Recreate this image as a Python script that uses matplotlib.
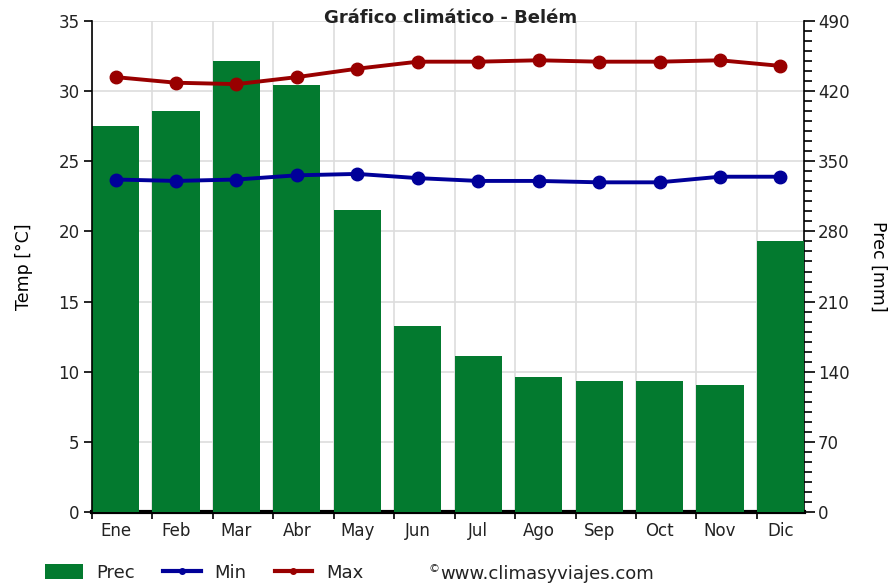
#-  plot.py ~~
#
#   Climate chart for Belem: monthly precipitation as bars (right axis) with
#   min / max temperature lines (left axis).

import matplotlib
matplotlib.use("Agg")
import matplotlib.pyplot as pyplot
from matplotlib.lines import Line2D
from matplotlib.patches import Patch
import numpy as np

###

months = ["Ene", "Feb", "Mar", "Abr", "May", "Jun",
          "Jul", "Ago", "Sep", "Oct", "Nov", "Dic"]
prec_mm = [385, 400, 450, 426, 301, 186, 156, 135, 131, 131, 127, 270]
temp_min = [23.7, 23.6, 23.7, 24.0, 24.1, 23.8, 23.6, 23.6, 23.5, 23.5, 23.9, 23.9]
temp_max = [31.0, 30.6, 30.5, 31.0, 31.6, 32.1, 32.1, 32.2, 32.1, 32.1, 32.2, 31.8]

GREEN = "#037a2f"
BLUE = "#000099"
RED = "#990000"
GRID = "#dddddd"
TEXT = "#222222"

pyplot.rcParams["font.family"] = ["DejaVu Sans"]
pyplot.rcParams["font.size"] = 12
pyplot.rcParams["text.color"] = TEXT
pyplot.rcParams["xtick.labelcolor"] = TEXT
pyplot.rcParams["ytick.labelcolor"] = TEXT

###

def main():

    fig = pyplot.figure(figsize=(8.92, 5.86), dpi=100)

  # Host axes carries the precipitation (right side); the twin carries the
  # temperature (left side) so that the lines sit on top of the bars.
    ax_p = fig.add_axes([92 / 892, 1 - 512 / 586, 712 / 892, 491 / 586])
    ax_t = ax_p.twinx()

    x = np.arange(len(months))
    w = 0.78
    ax_p.bar(x, prec_mm, width=w, color=GREEN, zorder=3)
    ax_p.set_xlim(-w / 2, len(months) - 1 + w / 2)
    ax_p.set_ylim(0, 490)

  # Month boundaries are the major ticks (with grid), names are minor ticks
    ax_p.set_xticks(x - w / 2)
    ax_p.set_xticklabels([])
    ax_p.set_xticks(x, minor=True)
    ax_p.set_xticklabels(months, minor=True)
    ax_p.tick_params(axis="x", which="major", length=5, width=1.2, color="black")
    ax_p.tick_params(axis="x", which="minor", length=0, pad=7)

    ax_p.yaxis.tick_right()
    ax_p.yaxis.set_label_position("right")
    ax_p.set_yticks(np.arange(0, 491, 70))
    ax_p.set_yticks(np.arange(0, 491, 10), minor=True)
    ax_p.tick_params(axis="y", which="major", length=8, width=1.2, pad=2)
    ax_p.tick_params(axis="y", which="minor", length=6, width=1.2)
    ax_p.set_ylabel("Prec [mm]", rotation=-90, labelpad=27, fontsize=12.5)

    ax_p.set_axisbelow(True)
    ax_p.grid(True, which="major", color=GRID, linewidth=1.2)
    ax_p.spines["top"].set_visible(False)
    ax_p.spines["left"].set_visible(False)
    ax_p.spines["bottom"].set_linewidth(3)
    ax_p.spines["bottom"].set_zorder(2)
    ax_p.spines["right"].set_linewidth(1.2)

  # Temperature lines
    ax_t.plot(x, temp_min, color=BLUE, linewidth=2.8, marker="o",
              markersize=9, zorder=4)
    ax_t.plot(x, temp_max, color=RED, linewidth=2.8, marker="o",
              markersize=9, zorder=4)
    ax_t.set_ylim(0, 35)
    ax_t.set_yticks(np.arange(0, 36, 5))
    ax_t.yaxis.tick_left()
    ax_t.yaxis.set_label_position("left")
    ax_t.tick_params(axis="y", length=6, width=1.2, pad=3)
    ax_t.set_ylabel("Temp [\u00b0C]", labelpad=18, fontsize=12.5)
    for side in ["top", "right", "bottom"]:
        ax_t.spines[side].set_visible(False)
    ax_t.spines["left"].set_linewidth(1.2)

    fig.text(0.505, 1 - 18 / 586, "Gr\u00e1fico clim\u00e1tico - Bel\u00e9m",
             ha="center", va="center", fontweight="bold", fontsize=13)

  # Legend along the bottom
    handles = [
        Patch(facecolor=GREEN, edgecolor="none"),
        Line2D([], [], color=BLUE, linewidth=3, marker="o", markersize=4),
        Line2D([], [], color=RED, linewidth=3, marker="o", markersize=4),
    ]
    fig.legend(handles, ["Prec", "Min", "Max"], loc="center left",
               bbox_to_anchor=(45 / 892, 1 - 573 / 586), ncol=3, frameon=False,
               handlelength=2.1, handleheight=0.9, columnspacing=1.55,
               handletextpad=0.75, borderaxespad=0, borderpad=0, fontsize=13)
    fig.text(428 / 892, 1 - 569 / 586, "\u00a9", fontsize=8,
             ha="left", va="center")
    fig.text(440 / 892, 1 - 574 / 586, "www.climasyviajes.com", fontsize=13,
             ha="left", va="center")

    fig.savefig("out.png", dpi=100)

###

if __name__ == "__main__":
    main()
